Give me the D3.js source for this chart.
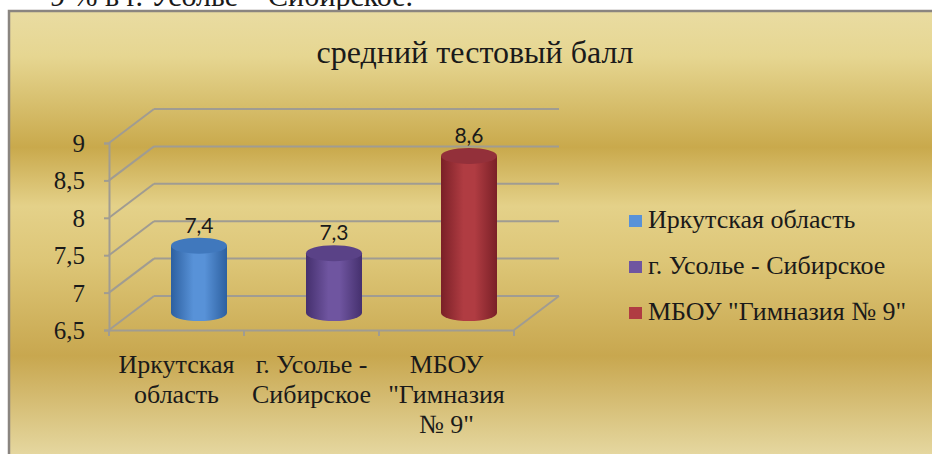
<!DOCTYPE html>
<html>
<head>
<meta charset="utf-8">
<script src="https://cdn.jsdelivr.net/npm/d3@7"></script>
</head>
<body style="margin:0">
<script>
let categories = ['Иркутская область', 'г. Усолье - Сибирское', 'МБОУ "Гимназия № 9"']
let categoryLines = [['Иркутская', 'область'], ['г. Усолье -', 'Сибирское'], ['МБОУ', '"Гимназия', '№ 9"']]
let values = [7.4, 7.3, 8.6]
let valueLabels = ['7,4', '7,3', '8,6']
let yTicks = [6.5, 7, 7.5, 8, 8.5, 9]
let title = 'средний тестовый балл'

let width = 932, height = 454
let serifFont = '"Liberation Serif"'
let ink = '#1a1a1a'

// colours for each series: [edge, middle, top]
let colors = [
  ['#2d60a0', '#5892d8', '#4078bd'],
  ['#45306e', '#6f55a0', '#5a4287'],
  ['#7a2027', '#b03c42', '#93303a']
]

let svg = d3.select('body')
  .append('svg')
  .attr('width', width)
  .attr('height', height)
  .style('display', 'block')

let defs = svg.append('defs')

let bg = defs.append('linearGradient').attr('id', 'bg')
  .attr('x1', 0).attr('y1', 0).attr('x2', 0).attr('y2', 1)
let bgStops = [[0, '#e9dca2'], [0.1, '#e6d691'], [0.3, '#c9a94c'], [0.43, '#e4d189'], [0.55, '#ddc677'], [0.76, '#c8a74f'], [1, '#e8dca8']]
bgStops.forEach(s => bg.append('stop').attr('offset', s[0]).attr('stop-color', s[1]))

colors.forEach((c, i) => {
  let g = defs.append('linearGradient').attr('id', 'bar' + i)
    .attr('x1', 0).attr('y1', 0).attr('x2', 1).attr('y2', 0)
  g.append('stop').attr('offset', 0).attr('stop-color', c[0])
  g.append('stop').attr('offset', 0.4).attr('stop-color', c[1])
  g.append('stop').attr('offset', 0.6).attr('stop-color', c[1])
  g.append('stop').attr('offset', 1).attr('stop-color', c[0])
})

function serifText(sel, size) {
  return sel.style('font-family', serifFont).style('font-size', size + 'px').attr('fill', ink)
}

// text of the page above the chart, cut off by the frame
serifText(svg.append('text'), 30)
  .attr('x', 413).attr('y', 6)
  .attr('text-anchor', 'end')
  .text('9 % в г. Усолье – Сибирское.')

// frame
svg.append('rect')
  .attr('x', 9).attr('y', 11)
  .attr('width', width).attr('height', height)
  .attr('fill', 'url(#bg)')
  .attr('stroke', '#8a8580').attr('stroke-width', 2.5)

serifText(svg.append('text'), 32)
  .attr('x', 475).attr('y', 63)
  .attr('text-anchor', 'middle')
  .text(title)

let x = d3.scaleBand().domain(categories).range([109, 514])
let y = d3.scaleLinear().domain([6.5, 9]).range([330, 143])
let dx = 45, dy = -34
let grid = '#a09c92'

// back wall and left wall
let walls = svg.append('g').attr('stroke', grid).attr('stroke-width', 2).attr('fill', 'none')
yTicks.forEach(t => {
  walls.append('line')
    .attr('x1', x.range()[0] + dx).attr('x2', x.range()[1] + dx)
    .attr('y1', y(t) + dy).attr('y2', y(t) + dy)
  walls.append('line')
    .attr('x1', x.range()[0]).attr('x2', x.range()[0] + dx)
    .attr('y1', y(t)).attr('y2', y(t) + dy)
})
// floor right edge
walls.append('line')
  .attr('x1', x.range()[1]).attr('x2', x.range()[1] + dx)
  .attr('y1', y(6.5)).attr('y2', y(6.5) + dy)

let yAxis = svg.append('g')
  .attr('transform', `translate(${x.range()[0]},0)`)
  .call(d3.axisLeft(y).tickValues(yTicks).tickSize(5).tickPadding(19)
    .tickFormat(d => String(d).replace('.', ',')))
yAxis.select('.domain').attr('stroke', grid).attr('stroke-width', 2)
yAxis.selectAll('.tick line').attr('stroke', grid).attr('stroke-width', 2)
serifText(yAxis.selectAll('.tick text'), 25).attr('dy', '0.34em')

let xAxis = svg.append('g')
  .attr('transform', `translate(0,${y(6.5)})`)
  .call(d3.axisBottom(x).tickSize(0).tickFormat(''))
xAxis.select('.domain').attr('stroke', grid).attr('stroke-width', 2)
let edges = x.domain().map(d => x(d)).concat([x.range()[1]])
xAxis.selectAll('.sep').data(edges).enter().append('line')
  .attr('x1', d => d).attr('x2', d => d)
  .attr('y1', 0).attr('y2', 6)
  .attr('stroke', grid).attr('stroke-width', 2)

categoryLines.forEach((lines, i) => {
  let t = serifText(svg.append('text'), 26).attr('text-anchor', 'middle')
  lines.forEach((l, j) => {
    t.append('tspan')
      .attr('x', x(categories[i]) + x.bandwidth() / 2)
      .attr('y', 373 + j * 30)
      .text(l)
  })
})

// cylinders
let rx = 28, ry = 8
let bars = svg.selectAll('.bar').data(values).enter().append('g')
bars.each(function (v, i) {
  let g = d3.select(this)
  let cx = x(categories[i]) + x.bandwidth() / 2 + dx / 2
  let yTop = y(v) + dy / 2
  let yBot = y(6.5) + dy / 2
  g.append('path')
    .attr('d', `M${cx - rx},${yTop} L${cx - rx},${yBot} A${rx},${ry} 0 0 0 ${cx + rx},${yBot} L${cx + rx},${yTop} Z`)
    .attr('fill', `url(#bar${i})`)
  g.append('ellipse')
    .attr('cx', cx).attr('cy', yTop)
    .attr('rx', rx).attr('ry', ry)
    .attr('fill', colors[i][2])
  g.append('text')
    .attr('x', cx).attr('y', yTop - ry - 5)
    .attr('text-anchor', 'middle')
    .style('font-family', '"Lato"').style('font-size', '21px')
    .attr('fill', ink)
    .text(valueLabels[i])
})

// legend
let legend = svg.selectAll('.legend').data(categories).enter().append('g')
  .attr('transform', (d, i) => `translate(629,${221 + i * 46})`)
legend.append('rect')
  .attr('x', 0).attr('y', -6).attr('width', 13).attr('height', 12)
  .attr('fill', (d, i) => colors[i][1])
serifText(legend.append('text'), 26)
  .attr('x', 19).attr('y', 7)
  .text(d => d)
</script>
</body>
</html>
